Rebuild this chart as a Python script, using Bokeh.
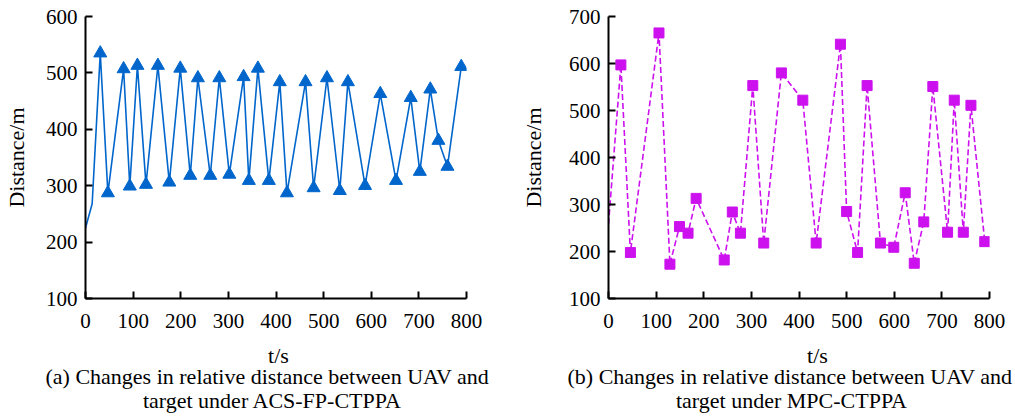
from bokeh.plotting import figure
from bokeh.layouts import row, column
from bokeh.models import Range1d, FixedTicker
from bokeh.core.properties import value
from bokeh.embed import file_html
from bokeh.resources import INLINE

# (a) ACS-FP-CTPPA
t_a = [0, 14, 31, 47, 80, 93, 109, 127, 152, 176, 199, 220, 236, 262, 281, 302, 332, 343,
       362, 385, 408, 423, 462, 479, 507, 534, 551, 587, 619, 652, 683, 702, 724, 741, 760, 789]
d_a = [225, 268, 535, 287, 507, 299, 513, 302, 513, 306, 508, 318, 491, 318, 491, 320, 493, 309,
       508, 309, 484, 287, 484, 296, 491, 291, 484, 300, 463, 309, 456, 325, 471, 380, 334, 511]
# (b) MPC-CTPPA
t_b = [0, 26, 46, 106, 129, 149, 167, 184, 243, 260, 277, 303, 326, 363, 408, 436, 487, 500,
       523, 543, 571, 599, 623, 642, 662, 681, 712, 726, 745, 761, 790]
d_b = [258, 597, 198, 665, 173, 253, 239, 313, 182, 284, 239, 553, 218, 580, 522, 218, 641, 285,
       198, 553, 218, 209, 325, 175, 263, 551, 241, 522, 241, 511, 221]

x_ticks = [0, 100, 200, 300, 400, 500, 600, 700, 800]
y_ticks_a = [100, 200, 300, 400, 500, 600]
y_ticks_b = [100, 200, 300, 400, 500, 600, 700]

x_label = "t/s"
y_label = "Distance/m"
caption_a = ["(a) Changes in relative distance between UAV and", "target under ACS-FP-CTPPA"]
caption_b = ["(b) Changes in relative distance between UAV and", "target under MPC-CTPPA"]

FONT = "'Liberation Serif', 'Times New Roman', serif"
TOP_H = 342
CAP_H = 75


def make_fig(width, left, yr, yt, ylab_standoff):
    p = figure(width=width, height=TOP_H, output_backend="svg", toolbar_location=None,
               x_range=Range1d(0, 800), y_range=Range1d(*yr),
               min_border_left=left, min_border_top=16, min_border_right=width - left - 381,
               min_border_bottom=TOP_H - 16 - 282)
    p.outline_line_color = None
    p.grid.visible = False
    p.background_fill_color = "white"
    p.border_fill_color = "white"
    for ax in (p.xaxis[0], p.yaxis[0]):
        ax.major_tick_in = 7
        ax.major_tick_out = 0
        ax.minor_tick_line_color = None
        ax.axis_line_color = "black"
        ax.axis_line_width = 2
        ax.major_tick_line_width = 2
        ax.major_label_text_font = FONT
        ax.major_label_text_font_size = "21px"
        ax.major_label_text_color = "black"
        ax.axis_label_text_font = FONT
        ax.axis_label_text_font_size = "22px"
        ax.axis_label_text_font_style = "normal"
        ax.axis_label_text_color = "black"
    p.xaxis.ticker = FixedTicker(ticks=x_ticks)
    p.yaxis.ticker = FixedTicker(ticks=yt)
    p.yaxis.axis_label = y_label
    p.xaxis.major_label_standoff = 15
    p.yaxis.major_label_standoff = 8
    p.yaxis.axis_label_standoff = ylab_standoff
    return p


def make_caption(width, lines, xl, x1, x2):
    c = figure(width=width, height=CAP_H, output_backend="svg", toolbar_location=None,
               x_range=Range1d(0, width), y_range=Range1d(0, CAP_H),
               min_border=0, min_border_left=0, min_border_right=0,
               min_border_top=0, min_border_bottom=0)
    c.axis.visible = False
    c.grid.visible = False
    c.outline_line_color = None
    c.background_fill_color = "white"
    c.border_fill_color = "white"
    c.text(x=[xl], y=[62], text=[x_label], text_font=value(FONT), text_font_size="22px",
           text_color="black", text_align="center", text_baseline="alphabetic")
    c.text(x=[x1], y=[41], text=[lines[0]], text_font=value(FONT), text_font_size="22px",
           text_color="black", text_align="left", text_baseline="alphabetic")
    c.text(x=[x2], y=[17], text=[lines[1]], text_font=value(FONT), text_font_size="22px",
           text_color="black", text_align="center", text_baseline="alphabetic")
    return c


p1 = make_fig(505, 85, (100, 600), y_ticks_a, 14)
p1.line(t_a, d_a, line_color="#0066CC", line_width=1.6)
p1.scatter(t_a[2:], d_a[2:], marker="triangle", size=13, fill_color="#0066CC", line_color="#0066CC")

p2 = make_fig(510, 103, (100, 700), y_ticks_b, 20)
p2.line(t_b, d_b, line_color="#CC11EE", line_width=1.6, line_dash="6 3")
p2.scatter(t_b[1:], d_b[1:], marker="square", size=10, fill_color="#CC11EE", line_color="#CC11EE")

c1 = make_caption(505, caption_a, 278, 45, 272)
c2 = make_caption(510, caption_b, 312, 62, 286)

layout = column(row(p1, p2), row(c1, c2))
open("out.html", "w").write(file_html(layout, INLINE))
